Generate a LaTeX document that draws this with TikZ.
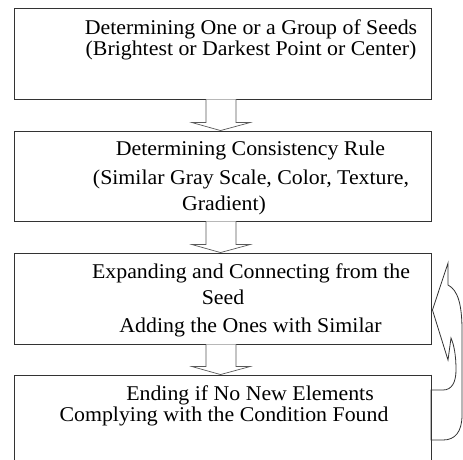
\documentclass[tikz,border=0pt]{standalone}
\usepackage{fontspec}
\setmainfont{Liberation Serif}[FakeStretch=1.04]
\usetikzlibrary{calc}

\tikzset{
    stagebox/.style={draw=black!80,line width=0.9pt,minimum width=417pt,minimum height=91pt,inner sep=0pt},
    textline/.style={anchor=base,inner sep=0pt,font=\fontsize{21}{23}\selectfont},
    hollowarrow/.style={draw=black!65,line width=0.7pt,fill=white}
}

\newcommand{\downblock}[2]{%
    \draw[hollowarrow] ($(#1.south)+(-16.5,0)$) -- ($(#2.north)+(-16.5,-8)$)
        -- ($(#2.north)+(-30.5,-8)$) -- ($(#2.north)+(-2,0)$)
        -- ($(#2.north)+(27.5,-8)$) -- ($(#2.north)+(13.5,-8)$)
        -- ($(#1.south)+(13.5,0)$);
}

\begin{document}
\begin{tikzpicture}[x=1pt,y=-1pt]
        \useasboundingbox (0,0) rectangle (463,459);
        \clip (0,0) rectangle (463,459);
        \node[stagebox] (seedbox) at (222.5,53.5) {};
        \node[stagebox,minimum height=90pt] (rulebox) at (222.5,176) {};
        \node[stagebox] (growbox) at (222.5,298.5) {};
        \node[stagebox,minimum height=100pt] (endbox) at (222.5,425) {};
        \node[textline] (seedA) at (251,34) {Determining One or a Group of Seeds};
        \node[textline] (seedB) at (251,55) {(Brightest or Darkest Point or Center)};
        \node[textline] (ruleA) at (250.5,155) {Determining Consistency Rule};
        \node[textline] (ruleB) at (251,184) {(Similar Gray Scale, Color, Texture,};
        \node[textline] (ruleC) at (224,210) {Gradient)};
        \node[textline] (growA) at (251,278) {Expanding and Connecting from the};
        \node[textline] (growB) at (223,304) {Seed};
        \node[textline] (growC) at (250.5,332) {Adding the Ones with Similar};
        \node[textline] (endA) at (250,400) {Ending if No New Elements};
        \node[textline] (endB) at (224,421) {Complying with the Condition Found};
        \downblock{seedbox}{rulebox}
        \downblock{rulebox}{growbox}
        \downblock{growbox}{endbox}
        \coordinate (tip) at ($(growbox.east)+(1,11.5)$);
        \coordinate (outerend) at (431,440);
        \coordinate (innerend) at (431,390);
        \draw[black!80,line width=0.8pt,fill=white] (tip) -- (448,263) -- (448,285)
            .. controls (458,290) and (462,305) .. (462,330) -- (462,415)
            .. controls (462,432) and (455,440) .. (443,440) -- (outerend)
            -- (innerend) -- (443,390)
            .. controls (452,390) and (456,382) .. (456,370)
            .. controls (456,355) and (454,345) .. (451,338) -- (448,360) -- cycle;
        \draw[black!80,line width=0.9pt] (endbox.north east) -- (endbox.south east);
    \end{tikzpicture}
\end{document}
